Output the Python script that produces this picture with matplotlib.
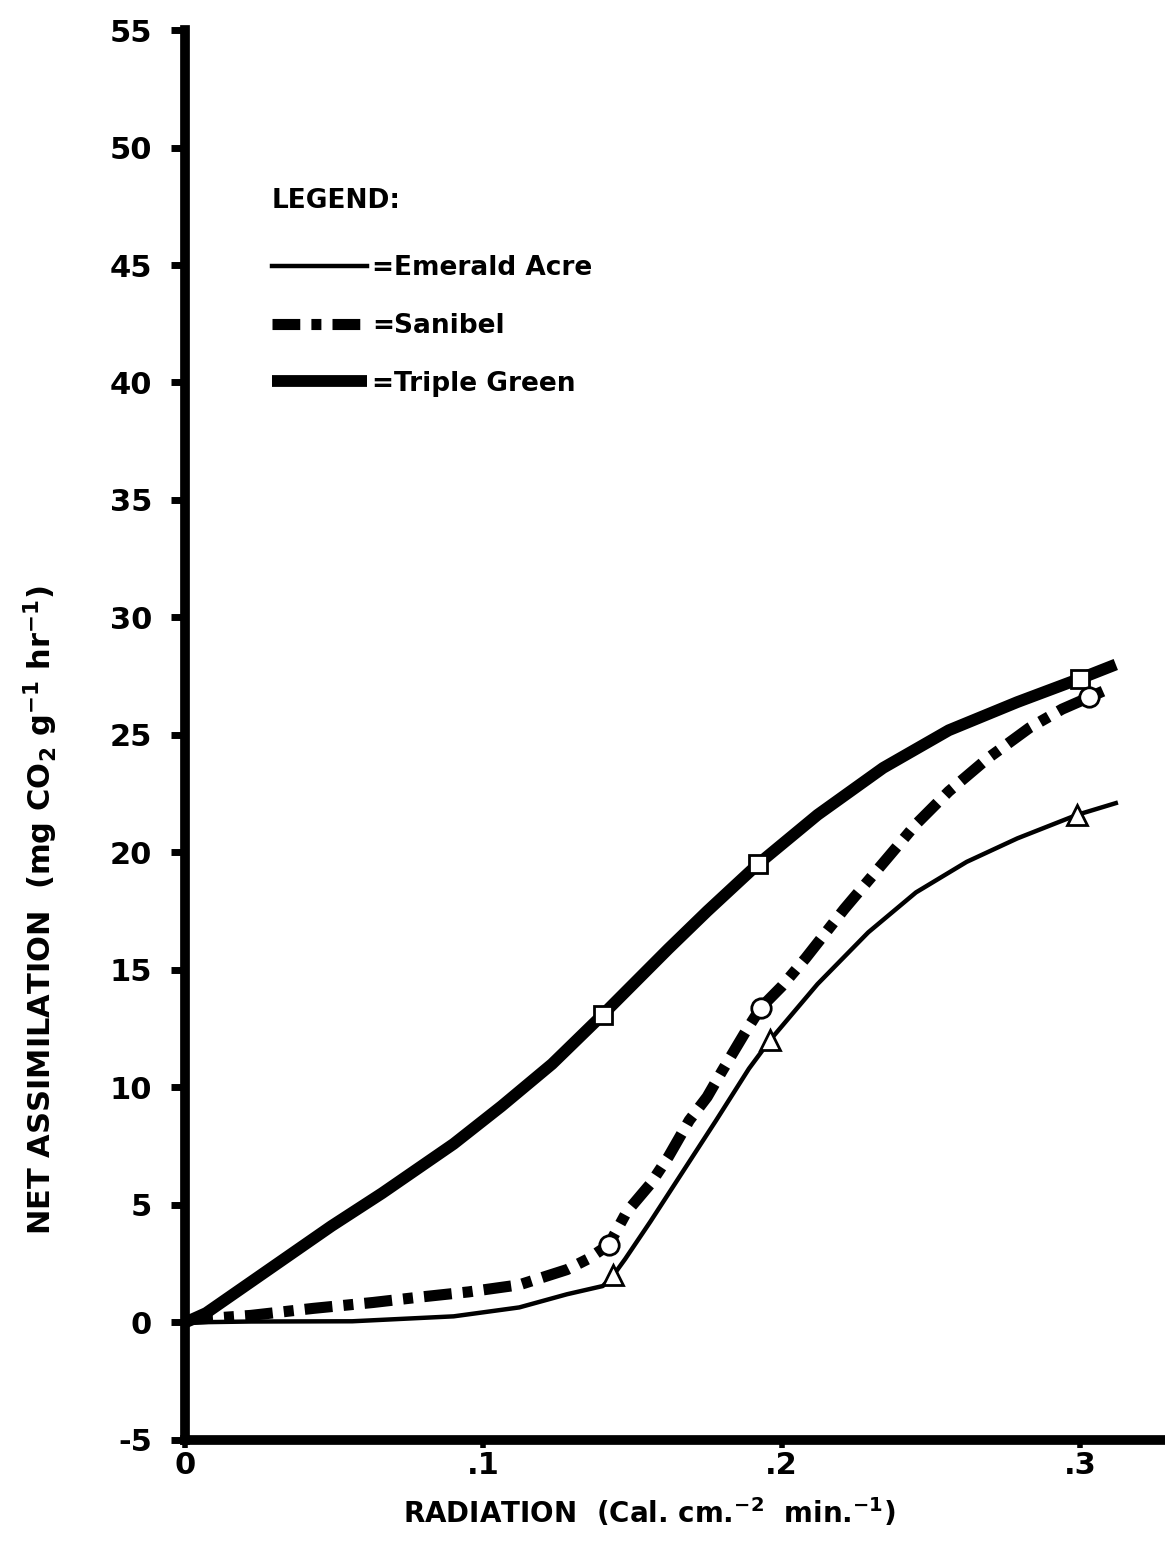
import matplotlib
matplotlib.use("Agg")
import matplotlib.pyplot as plt
from matplotlib.lines import Line2D

plt.rcParams['font.family'] = ['DejaVu Sans']
plt.rcParams['font.weight'] = 'bold'
plt.rcParams['mathtext.fontset'] = 'dejavusans'
plt.rcParams['mathtext.default'] = 'bf'

# values
emerald_x = [0, 0.022, 0.056, 0.090, 0.112, 0.128, 0.140, 0.1435, 0.1475, 0.156, 0.167, 0.178,
             0.189, 0.196, 0.200, 0.212, 0.229, 0.245, 0.262, 0.279, 0.293, 0.299, 0.312]
emerald_y = [0, 0.04, 0.05, 0.26, 0.64, 1.2, 1.55, 2.0, 2.7, 4.3, 6.45, 8.6,
             10.8, 12.0, 12.6, 14.4, 16.6, 18.3, 19.6, 20.6, 21.3, 21.6, 22.1]
emerald_pts_x = [0.1435, 0.196, 0.299]
emerald_pts_y = [2.0, 12.0, 21.6]

sanibel_x = [0, 0.022, 0.043, 0.063, 0.078, 0.095, 0.112, 0.128, 0.135, 0.142, 0.148, 0.156,
             0.162, 0.169, 0.175, 0.180, 0.188, 0.193, 0.200, 0.208, 0.221, 0.233, 0.245,
             0.256, 0.269, 0.283, 0.294, 0.303, 0.311]
sanibel_y = [0.1, 0.3, 0.6, 0.85, 1.07, 1.3, 1.6, 2.25, 2.7, 3.3, 4.7, 5.9,
             7.05, 8.6, 9.6, 10.7, 12.4, 13.4, 14.3, 15.5, 17.6, 19.4, 21.2,
             22.6, 24.0, 25.3, 26.1, 26.6, 27.05]
sanibel_pts_x = [0.142, 0.193, 0.303]
sanibel_pts_y = [3.3, 13.4, 26.6]

triple_x = [0, 0.007, 0.049, 0.066, 0.090, 0.106, 0.123, 0.140, 0.162, 0.175, 0.192,
            0.212, 0.234, 0.256, 0.279, 0.300, 0.312]
triple_y = [0, 0.4, 4.1, 5.5, 7.6, 9.2, 11.0, 13.1, 15.9, 17.5, 19.5,
            21.6, 23.6, 25.2, 26.4, 27.4, 28.0]
triple_pts_x = [0.140, 0.192, 0.300]
triple_pts_y = [13.1, 19.5, 27.4]

yticks = list(range(-5, 56, 5))
xticks = [0, 0.1, 0.2, 0.3]
xticklabels = ['0', '.1', '.2', '.3']
names = ['=Emerald Acre', '=Sanibel', '=Triple Green']

fig = plt.figure(figsize=(11.65, 15.47), dpi=100)
ax = fig.add_axes([0.159, 0.0692, 0.841, 0.9114])

dash = (2.5, 1.0, 0.9, 1.0)
ax.plot(triple_x, triple_y, color='black', lw=8.5, solid_capstyle='butt')
ax.plot(sanibel_x, sanibel_y, color='black', lw=8, dashes=dash, dash_capstyle='butt')
ax.plot(emerald_x, emerald_y, color='black', lw=3.2)

ax.plot(triple_pts_x, triple_pts_y, ls='none', marker='s', ms=13, mfc='white', mec='black', mew=2)
ax.plot(sanibel_pts_x, sanibel_pts_y, ls='none', marker='o', ms=14, mfc='white', mec='black', mew=2)
ax.plot(emerald_pts_x, emerald_pts_y, ls='none', marker='^', ms=14, mfc='white', mec='black', mew=2)

ax.set_xlim(0, 0.3285)
ax.set_ylim(-5, 55)
ax.set_yticks(yticks)
ax.set_yticklabels([str(t) for t in yticks])
ax.set_xticks(xticks)
ax.set_xticklabels(xticklabels)
ax.tick_params(axis='y', direction='out', length=10, width=5, labelsize=22, pad=14)
ax.tick_params(axis='x', direction='out', length=6, width=4, labelsize=22, pad=2)

for s in ['top', 'right']:
    ax.spines[s].set_visible(False)
ax.spines['left'].set_linewidth(7)
ax.spines['bottom'].set_linewidth(7)

ax.set_ylabel('NET ASSIMILATION  (mg CO$_2$ g$^{-1}$ hr$^{-1}$)', fontsize=22, fontweight='bold')
ax.yaxis.set_label_coords(-0.1276, 0.376)
ax.set_xlabel('RADIATION  (Cal. cm.$^{-2}$  min.$^{-1}$)', fontsize=20, fontweight='bold')
ax.xaxis.set_label_coords(0.474, -0.04)

handles = [Line2D([], [], color='black', lw=3.2),
           Line2D([], [], color='black', lw=8, dashes=dash, dash_capstyle='butt'),
           Line2D([], [], color='black', lw=8.5, solid_capstyle='butt')]
leg = ax.legend(handles, names, title='LEGEND:', loc='upper left',
                bbox_to_anchor=(0.064, 0.905), frameon=False,
                handlelength=3.6, handletextpad=0.2, labelspacing=1.2,
                prop={'size': 19, 'weight': 'bold'},
                title_fontproperties={'size': 19, 'weight': 'bold'},
                alignment='left')
leg._legend_box.sep = 30

fig.savefig('out.png', dpi=100)
